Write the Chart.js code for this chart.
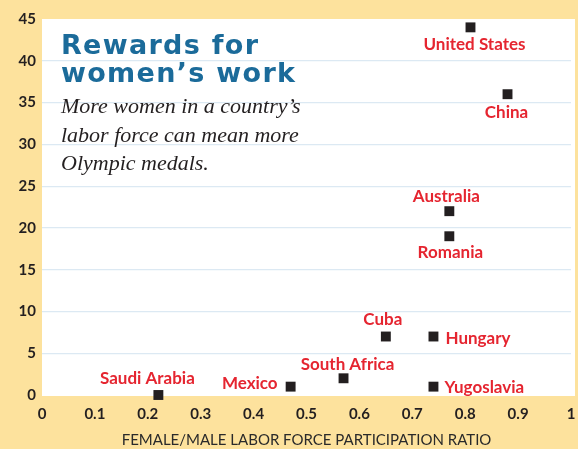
<!DOCTYPE html>
<html>
<head>
<meta charset="utf-8">
<script src="https://cdn.jsdelivr.net/npm/chart.js@4"></script>
<style>
  html, body { margin: 0; padding: 0; background: #fde29d; }
  #wrap { width: 578px; height: 449px; position: relative; }
</style>
</head>
<body>
<div id="wrap"><canvas id="chart"></canvas></div>
<script>
// Countries and their values
const countries = ['United States', 'China', 'Australia', 'Romania', 'Cuba', 'Hungary', 'South Africa', 'Yugoslavia', 'Mexico', 'Saudi Arabia'];
const laborRatio = [0.81, 0.88, 0.77, 0.77, 0.65, 0.74, 0.57, 0.74, 0.47, 0.22];
const medals = [44, 36, 22, 19, 7, 7, 2, 1, 1, 0];
const xTicks = [0, 0.1, 0.2, 0.3, 0.4, 0.5, 0.6, 0.7, 0.8, 0.9, 1];
const yTicks = [0, 5, 10, 15, 20, 25, 30, 35, 40, 45];

// where each country label sits relative to its marker (style only)
const labelPlace = {
  'United States': { dx: 4, dy: 17, align: 'center' },
  'China': { dx: -1, dy: 18, align: 'center' },
  'Australia': { dx: -3, dy: -15, align: 'center' },
  'Romania': { dx: 1, dy: 16, align: 'center' },
  'Cuba': { dx: -3, dy: -17, align: 'center' },
  'Hungary': { dx: 12, dy: 2, align: 'left' },
  'South Africa': { dx: 4, dy: -14, align: 'center' },
  'Yugoslavia': { dx: 11, dy: 1, align: 'left' },
  'Mexico': { dx: -13, dy: -3, align: 'right' },
  'Saudi Arabia': { dx: -11, dy: -16, align: 'center' }
};

const points = countries.map((c, i) => ({ x: laborRatio[i], y: medals[i], name: c }));

const backdrop = {
  id: 'backdrop',
  beforeDraw(chart) {
    const { ctx, chartArea: a } = chart;
    ctx.save();
    ctx.fillStyle = '#fde29d';
    ctx.fillRect(0, 0, chart.width, chart.height);
    ctx.fillStyle = '#ffffff';
    ctx.fillRect(a.left, a.top, chart.width - 3 - a.left, a.bottom - a.top + 1);
    ctx.restore();
  },
  afterDatasetsDraw(chart) {
    const { ctx } = chart;
    const meta = chart.getDatasetMeta(0);
    ctx.save();
    // country labels
    ctx.font = 'bold 17px Lato';
    ctx.fillStyle = '#e52530';
    ctx.textBaseline = 'middle';
    meta.data.forEach((el, i) => {
      const p = labelPlace[countries[i]];
      ctx.textAlign = p.align;
      ctx.fillText(countries[i], el.x + p.dx, el.y + p.dy);
    });
    // title
    ctx.textAlign = 'left';
    ctx.textBaseline = 'alphabetic';
    ctx.fillStyle = '#1b6b9a';
    ctx.font = 'bold 27px "DejaVu Sans"';
    ctx.letterSpacing = '1.3px';
    ctx.fillText('Rewards for', 61, 54);
    ctx.fillText('women\u2019s work', 61, 82);
    ctx.letterSpacing = '0px';
    // subtitle
    ctx.fillStyle = '#231f20';
    ctx.font = 'italic 22px "Liberation Serif"';
    ctx.fillText('More women in a country\u2019s', 61, 113);
    ctx.fillText('labor force can mean more', 61, 142);
    ctx.fillText('Olympic medals.', 61, 170);
    ctx.restore();
  }
};

new Chart(document.getElementById('chart'), {
  type: 'scatter',
  data: {
    datasets: [{
      data: points,
      pointStyle: 'rect',
      pointRadius: 7,
      pointHoverRadius: 7,
      backgroundColor: '#231f20',
      borderWidth: 0,
      clip: false
    }]
  },
  options: {
    responsive: true,
    maintainAspectRatio: false,
    animation: false,
    layout: { padding: { top: 19, right: -3, left: 0, bottom: 0 } },
    plugins: { legend: { display: false }, tooltip: { enabled: false } },
    scales: {
      x: {
        type: 'linear',
        min: 0,
        max: 1,
        afterBuildTicks: (s) => { s.ticks = xTicks.map(v => ({ value: v })); },
        afterFit: (s) => { s.height = 54; s.paddingRight = 0; s.paddingLeft = 0; },
        grid: { display: false },
        border: { display: false },
        ticks: {
          color: '#231f20',
          font: { family: 'Lato', weight: 'bold', size: 15 },
          padding: 2,
          maxRotation: 0,
          callback: (v) => String(v)
        },
        title: {
          display: true,
          text: 'FEMALE/MALE LABOR FORCE PARTICIPATION RATIO',
          color: '#2a2a2a',
          font: { family: 'Lato', size: 15 },
          padding: { top: 8, bottom: 0 }
        }
      },
      y: {
        type: 'linear',
        min: 0,
        max: 45,
        afterBuildTicks: (s) => { s.ticks = yTicks.map(v => ({ value: v })); },
        afterFit: (s) => { s.width = 42; },
        grid: {
          drawTicks: false,
          lineWidth: 1.2,
          color: (c) => (c.tick && (c.tick.value === 0 || c.tick.value === 45)) ? 'rgba(0,0,0,0)' : '#dce9f3'
        },
        border: { display: false },
        ticks: {
          color: '#231f20',
          font: { family: 'Lato', weight: 'bold', size: 15 },
          padding: 6
        }
      }
    }
  },
  plugins: [backdrop]
});
</script>
</body>
</html>
